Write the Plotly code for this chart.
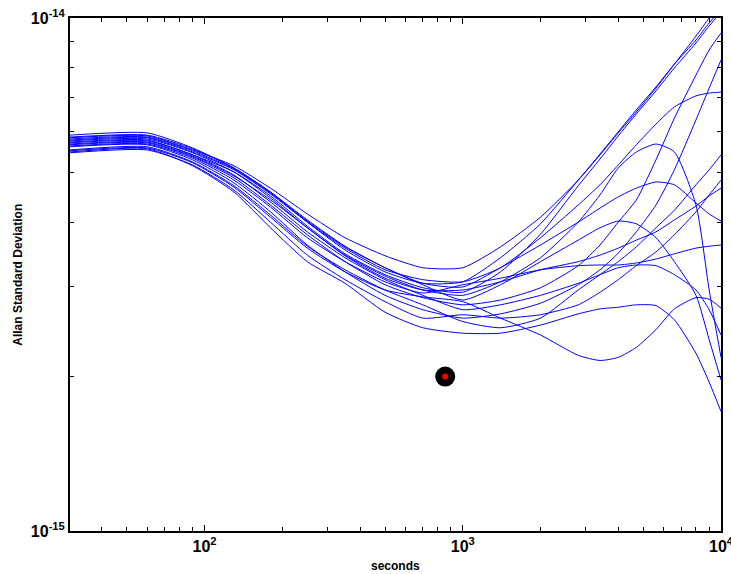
import plotly.graph_objects as go

# averaging times (s)
tau = [30, 60, 90, 130, 180, 250, 350, 500, 700, 1000, 1400, 2000, 2800,
       3400, 4000, 4700, 5600, 6600, 8000, 9000, 10000]

# Allan deviation curves, in units of 1e-15
c1 = [5.84, 5.89, 5.53, 5.15, 4.66, 4.15, 3.73, 3.44, 3.26, 3.26, 3.58, 4.09, 4.83, 5.41, 5.97, 6.56, 7.30, 8.13, 9.22, 10.00, 10.70]
c2 = [5.91, 5.97, 5.58, 5.10, 4.58, 4.00, 3.53, 3.20, 3.04, 3.06, 3.41, 3.97, 4.83, 5.43, 6.00, 6.62, 7.34, 8.13, 9.06, 9.78, 10.41]
c3 = [5.73, 5.78, 5.41, 5.01, 4.50, 3.93, 3.47, 3.16, 2.98, 2.92, 3.20, 3.79, 4.71, 5.31, 5.89, 6.50, 7.21, 7.99, 8.94, 9.65, 10.27]
c5 = [5.66, 5.71, 5.36, 4.88, 4.32, 3.78, 3.35, 3.02, 2.85, 2.76, 2.82, 2.98, 3.29, 3.61, 4.00, 4.42, 5.29, 6.38, 7.74, 8.66, 9.35]
c6 = [5.61, 5.66, 5.29, 4.77, 4.19, 3.61, 3.20, 2.88, 2.70, 2.60, 2.65, 2.78, 3.02, 3.23, 3.48, 3.83, 4.32, 5.06, 6.33, 7.30, 8.28]
c7 = [5.78, 5.84, 5.48, 5.06, 4.54, 4.00, 3.56, 3.23, 3.09, 3.06, 3.26, 3.73, 4.32, 4.73, 5.17, 5.66, 6.21, 6.71, 7.05, 7.14, 7.17]
cu = [5.53, 5.61, 5.24, 4.71, 4.13, 3.59, 3.23, 2.95, 2.76, 2.56, 2.49, 2.60, 2.95, 3.16, 3.35, 3.58, 3.90, 4.22, 4.73, 5.06, 5.41]
cv = [5.46, 5.53, 5.17, 4.62, 4.00, 3.45, 3.09, 2.80, 2.60, 2.64, 2.60, 2.64, 2.76, 2.92, 3.09, 3.29, 3.50, 3.78, 4.19, 4.52, 4.83]
cw = [5.68, 5.73, 5.38, 4.92, 4.42, 3.90, 3.44, 3.11, 2.95, 2.95, 3.06, 3.23, 3.35, 3.45, 3.56, 3.69, 3.83, 4.04, 4.30, 4.50, 4.66]
cb = [5.81, 5.86, 5.51, 5.08, 4.56, 4.02, 3.58, 3.26, 3.04, 2.99, 3.26, 3.61, 4.00, 4.26, 4.48, 4.66, 4.79, 4.73, 4.36, 4.15, 4.02]
ct = [5.63, 5.68, 5.33, 4.83, 4.28, 3.73, 3.35, 3.06, 2.91, 3.02, 3.11, 3.23, 3.29, 3.30, 3.30, 3.33, 3.39, 3.47, 3.56, 3.59, 3.61]
cq = [5.51, 5.58, 5.22, 4.68, 4.09, 3.56, 3.20, 2.95, 2.86, 2.80, 2.60, 2.41, 2.20, 2.15, 2.18, 2.28, 2.47, 2.71, 2.85, 2.83, 2.72]
cs = [5.71, 5.76, 5.41, 4.94, 4.38, 3.83, 3.41, 3.09, 2.88, 2.70, 2.76, 2.88, 3.04, 3.16, 3.26, 3.30, 3.29, 3.16, 2.95, 2.70, 2.41]
c8 = [5.76, 5.81, 5.46, 5.01, 4.46, 3.90, 3.45, 3.14, 2.95, 2.88, 3.06, 3.41, 4.00, 4.52, 5.10, 5.48, 5.68, 5.48, 4.32, 2.95, 2.18]
cp = [5.86, 5.91, 5.56, 5.10, 4.58, 4.04, 3.59, 3.26, 3.02, 2.82, 3.02, 3.35, 3.69, 3.90, 4.02, 3.97, 3.73, 3.35, 2.88, 2.36, 1.97]
cr = [5.48, 5.56, 5.15, 4.58, 3.90, 3.35, 3.04, 2.67, 2.49, 2.43, 2.43, 2.52, 2.65, 2.71, 2.73, 2.76, 2.75, 2.58, 2.22, 1.95, 1.71]

curves = [c1, c2, c3, c5, c6, c7, cu, cv, cw, cb, ct, cq, cs, c8, cp, cr]
unit = 1e-15

# highlighted point
pt_tau = [855]
pt_adev = [2.0e-15]

x_major = [100, 1000, 10000]
x_major_text = ["<b>10<sup>2</sup></b>", "<b>10<sup>3</sup></b>", "<b>10<sup>4</sup></b>"]
x_minor = [40, 50, 60, 70, 80, 90, 200, 300, 400, 500, 600, 700, 800, 900,
           2000, 3000, 4000, 5000, 6000, 7000, 8000, 9000]
y_major = [1e-15, 1e-14]
y_major_text = ["<b>10<sup>-15</sup></b>", "<b>10<sup>-14</sup></b>"]
y_minor = [2e-15, 3e-15, 4e-15, 5e-15, 6e-15, 7e-15, 8e-15, 9e-15]

fig = go.Figure()
for c in curves:
    fig.add_trace(go.Scatter(
        x=tau, y=[v * unit for v in c], mode="lines",
        line=dict(color="#0000ff", width=1, shape="spline", smoothing=0.6),
        hoverinfo="skip"))

fig.add_trace(go.Scatter(x=pt_tau, y=pt_adev, mode="markers",
                         marker=dict(size=20, color="black")))
fig.add_trace(go.Scatter(x=pt_tau, y=pt_adev, mode="markers",
                         marker=dict(size=6, color="red")))

font_family = "Liberation Sans, Arial, Helvetica, sans-serif"

fig.update_layout(
    width=731, height=574,
    margin=dict(l=70, r=10, t=18, b=43),
    paper_bgcolor="white", plot_bgcolor="white",
    showlegend=False,
    font=dict(family=font_family, color="black"),
    xaxis=dict(
        type="log", range=[1.479, 4.0], automargin=False,
        showgrid=False, zeroline=False,
        showline=True, linecolor="black", linewidth=2, mirror="ticks",
        ticks="inside", ticklen=6, tickcolor="black", tickwidth=1,
        tickmode="array", tickvals=x_major, ticktext=x_major_text,
        ticklabeloverflow="allow",
        tickfont=dict(size=16, family=font_family, color="black"),
        minor=dict(ticks="inside", ticklen=4, tickcolor="black", tickwidth=1,
                   tickmode="array", tickvals=x_minor, showgrid=False),
    ),
    yaxis=dict(
        type="log", range=[-15, -14], automargin=False,
        showgrid=False, zeroline=False,
        showline=True, linecolor="black", linewidth=2, mirror="ticks",
        ticks="inside", ticklen=6, tickcolor="black", tickwidth=1,
        tickmode="array", tickvals=y_major, ticktext=y_major_text,
        ticklabeloverflow="allow",
        tickfont=dict(size=16, family=font_family, color="black"),
        minor=dict(ticks="inside", ticklen=4, tickcolor="black", tickwidth=1,
                   tickmode="array", tickvals=y_minor, showgrid=False),
    ),
    annotations=[
        dict(text="<b>seconds</b>", xref="paper", yref="paper",
             x=0.5, y=-0.068, xanchor="center", yanchor="middle",
             showarrow=False, font=dict(size=12, family=font_family, color="black")),
        dict(text="<b>Allan Standard Deviation</b>", xref="paper", yref="paper",
             x=-0.081, y=0.5, xanchor="center", yanchor="middle", textangle=-90,
             showarrow=False, font=dict(size=12, family=font_family, color="black")),
    ],
)

fig.write_html("out.html", config={"displayModeBar": False},
               post_script="document.body.style.margin='0';document.body.style.overflow='hidden';")
